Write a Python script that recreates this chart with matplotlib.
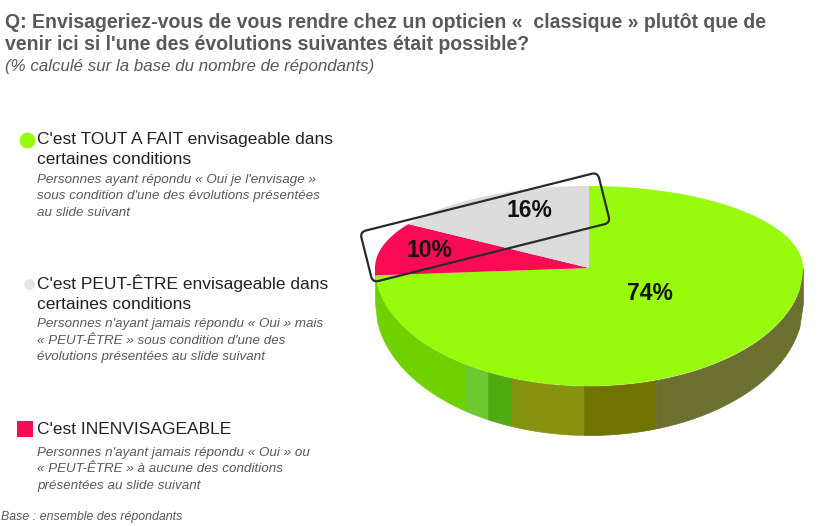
import numpy as np
import matplotlib
matplotlib.use('Agg')
import matplotlib.pyplot as plt
from matplotlib.patches import FancyBboxPatch
from matplotlib.transforms import Affine2D

plt.rcParams['font.family'] = ['Liberation Sans', 'DejaVu Sans']

shares = [74, 10, 16]
share_labels = ['74%', '10%', '16%']
share_colors = ['#98fa0c', '#fb0a55', '#dcdcdc']

title_lines = ["Q: Envisageriez-vous de vous rendre chez un opticien «  classique » plutôt que de",
               "venir ici si l'une des évolutions suivantes était possible?"]
subtitle = "(% calculé sur la base du nombre de répondants)"
headings = [["C'est TOUT A FAIT envisageable dans", "certaines conditions"],
            ["C'est PEUT-ÊTRE envisageable dans", "certaines conditions"],
            ["C'est INENVISAGEABLE"]]
details = [["Personnes ayant répondu « Oui je l'envisage »", "sous condition d'une des évolutions présentées", "au slide suivant"],
           ["Personnes n'ayant jamais répondu « Oui » mais", "« PEUT-ÊTRE » sous condition d'une des", "évolutions présentées au slide suivant"],
           ["Personnes n'ayant jamais répondu « Oui » ou", "« PEUT-ÊTRE » à aucune des conditions", "présentées au slide suivant"]]
footer = "Base : ensemble des répondants"

# rim shading, left to right along the front of the pie
rim_edges = [375, 465, 488, 512, 584, 656, 803]
rim_colors = ['#6fd200', '#6dc832', '#50aa12', '#879310', '#6f7300', '#6b7030']

cx, cy, rx = 589, 268, 214
ry_back, ry_front = 82, 118
rim_cy, rim_ry = 303, 132

GREY = '#595959'


def surface(t):
    # perspective: back half of the disc is flatter than the front half
    s = np.sin(t)
    ry = np.where(s > 0, ry_back, ry_front)
    return cx + rx * np.cos(t), cy - ry * s


fig = plt.figure(figsize=(8.24, 5.26), dpi=100)
ax = fig.add_axes([0, 0, 1, 1])
ax.set_xlim(0, 824)
ax.set_ylim(526, 0)
ax.axis('off')

# side of the pie
for i, col in enumerate(rim_colors):
    x = np.linspace(rim_edges[i], rim_edges[i + 1], 40)
    root = np.sqrt(np.clip(1 - ((x - cx) / rx) ** 2, 0, 1))
    ax.fill_between(x, cy + ry_front * root, rim_cy + rim_ry * root, color=col, lw=0.5, zorder=1)

# top of the pie, clockwise from 12 o'clock
start = 90.0
for share, col in zip(shares, share_colors):
    sweep = share / sum(shares) * 360
    t = np.radians(np.linspace(start, start - sweep, 200))
    px, py = surface(t)
    ax.fill(np.r_[cx, px], np.r_[cy, py], color=col, lw=0, zorder=2)
    start -= sweep

box = FancyBboxPatch((360, 232), 245, 52, boxstyle='round,pad=0,rounding_size=6',
                     fc='none', ec='#2b2b2b', lw=1.6, zorder=4,
                     transform=Affine2D().translate(-360, -232).rotate_deg(-14.1).translate(360, 232) + ax.transData)
ax.add_patch(box)

ax.text(650, 300, share_labels[0], ha='center', va='baseline', fontsize=16.5, fontweight='bold', color='#111111', zorder=5)
ax.text(429, 257, share_labels[1], ha='center', va='baseline', fontsize=16.5, fontweight='bold', color='#111111', zorder=5)
ax.text(529, 217, share_labels[2], ha='center', va='baseline', fontsize=16.5, fontweight='bold', color='#111111', zorder=5)

# header
for y, line in zip([28, 50], title_lines):
    ax.text(5, y, line, ha='left', va='baseline', fontsize=14.05, fontweight='bold', color=GREY)
ax.text(5, 71, subtitle, ha='left', va='baseline', fontsize=12.2, style='italic', color=GREY)

# legend column
ax.scatter([27], [140], s=130, marker='o', color=share_colors[0], lw=0, zorder=3)
ax.scatter([29], [284], s=60, marker='o', color='#e4e4e4', lw=0, zorder=3)
ax.scatter([25], [429], s=130, marker='s', color=share_colors[1], lw=0, zorder=3)

for y0, lines in zip([144, 289, 434], headings):
    for i, line in enumerate(lines):
        ax.text(37, y0 + 20 * i, line, ha='left', va='baseline', fontsize=12.5, color='#222222')
for y0, lines in zip([183, 327, 456], details):
    for i, line in enumerate(lines):
        ax.text(37, y0 + 16.5 * i, line, ha='left', va='baseline', fontsize=9.65, style='italic', color=GREY)

ax.text(1, 520, footer, ha='left', va='baseline', fontsize=8.9, style='italic', color=GREY)

fig.savefig('out.png', dpi=100)
